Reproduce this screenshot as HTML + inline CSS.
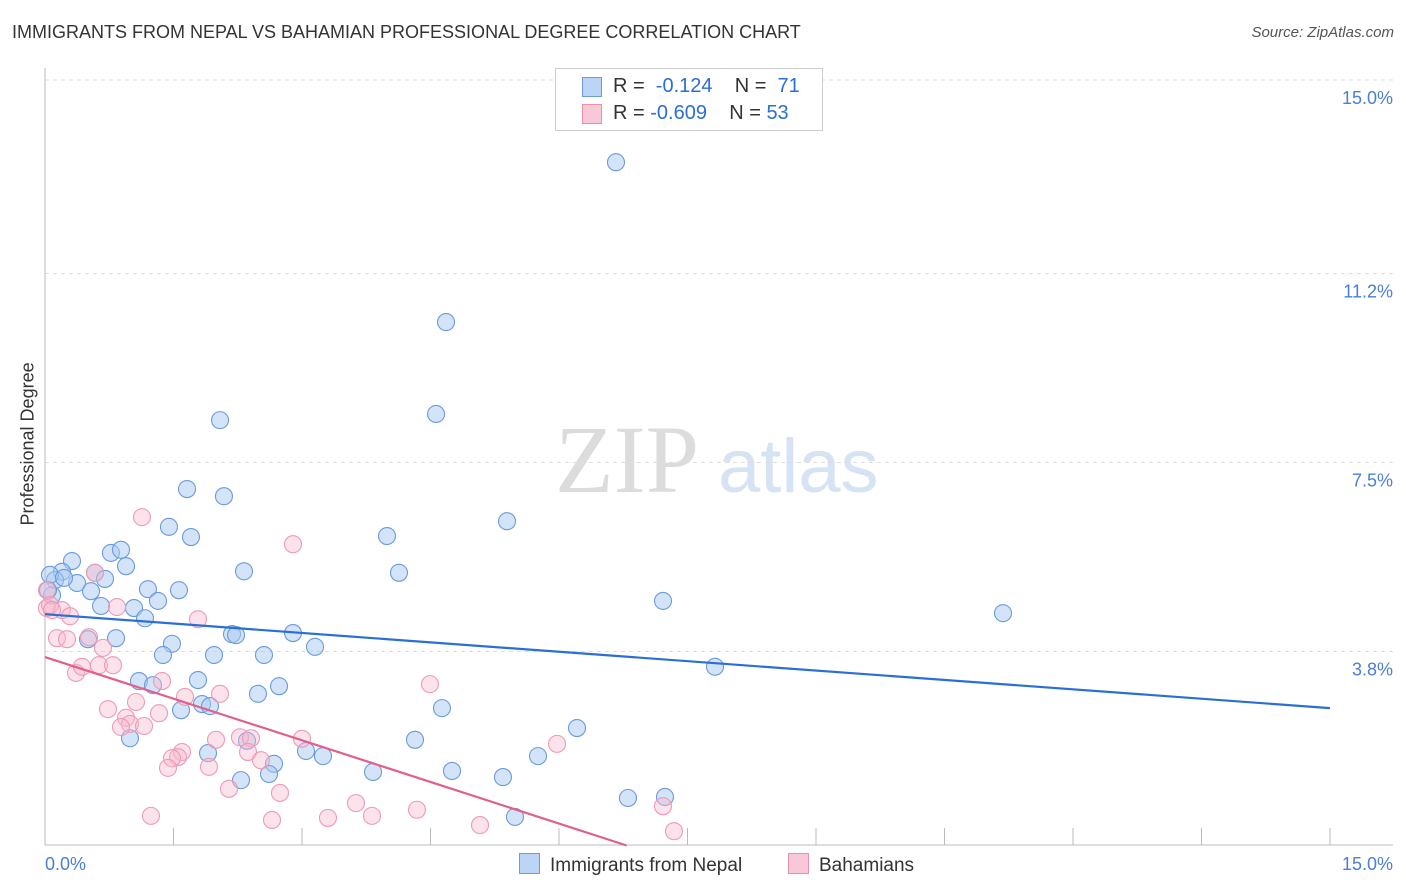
<!DOCTYPE html>
<html><head><meta charset="utf-8"><style>
body{margin:0;background:#fff;font-family:"Liberation Sans",sans-serif;}
#wrap{position:relative;width:1406px;height:892px;overflow:hidden;}
.t{position:absolute;white-space:nowrap;}
</style></head><body>
<div id="wrap">
<div class="t" style="left:12px;top:22px;font-size:18px;color:#333;">IMMIGRANTS FROM NEPAL VS BAHAMIAN PROFESSIONAL DEGREE CORRELATION CHART</div>
<div class="t" style="right:12px;top:24px;font-size:15px;color:#555;font-style:italic;">Source: ZipAtlas.com</div>
<div class="t" style="left:-42px;top:445px;font-size:18px;color:#333;transform:rotate(-90deg);width:140px;text-align:center;">Professional Degree</div>
<svg id="svg" width="1406" height="892" style="position:absolute;left:0;top:0"></svg>
</div>
<script>
const blueX=[6.665,4.681,4.565,2.043,1.658,2.089,5.393,1.447,1.704,3.992,0.315,0.770,0.887,0.946,2.323,4.132,0.584,0.198,0.117,0.700,0.374,1.202,1.564,0.537,1.319,7.214,0.654,1.039,11.183,1.167,2.183,2.230,2.895,0.829,0.502,1.482,3.152,1.377,1.973,2.556,7.821,1.097,1.261,1.786,2.732,2.486,1.833,1.926,1.588,4.634,6.210,0.992,4.319,2.358,3.047,3.245,1.903,5.755,2.673,3.829,4.751,2.288,2.615,5.346,6.805,7.237,5.486,0.058,0.082,0.222,0.035];
const blueY=[13.38,10.25,8.45,8.33,6.98,6.84,6.35,6.24,6.04,6.06,5.57,5.73,5.79,5.47,5.37,5.34,5.34,5.36,5.20,5.22,5.14,5.02,5.00,4.98,4.79,4.79,4.69,4.65,4.55,4.45,4.14,4.12,4.16,4.06,4.04,3.95,3.89,3.73,3.73,3.73,3.50,3.22,3.14,3.24,3.12,2.97,2.77,2.73,2.65,2.69,2.30,2.10,2.07,2.05,1.85,1.75,1.81,1.75,1.60,1.44,1.46,1.28,1.40,1.34,0.93,0.95,0.56,5.30,4.90,5.24,5.00];
const pinkX=[1.132,2.895,0.584,0.023,0.198,0.292,0.840,1.786,0.140,0.257,0.514,0.677,0.362,0.432,0.630,0.794,1.366,2.043,1.634,1.062,0.735,0.946,1.331,0.992,1.156,0.887,2.276,2.405,3.000,1.996,1.599,1.553,1.482,2.370,2.521,1.436,1.914,4.494,5.977,2.148,2.743,3.630,4.342,3.817,1.237,2.650,3.303,5.078,7.214,7.342,0.023,0.058,0.082];
const pinkY=[6.43,5.90,5.34,4.65,4.61,4.49,4.67,4.43,4.06,4.04,4.08,3.87,3.38,3.50,3.53,3.53,3.22,2.97,2.91,2.81,2.67,2.50,2.59,2.38,2.34,2.32,2.12,2.10,2.09,2.07,1.83,1.73,1.71,1.83,1.67,1.52,1.54,3.16,1.99,1.11,1.03,0.83,0.70,0.58,0.58,0.50,0.54,0.40,0.77,0.28,5.00,4.71,4.61];
const blueTrend=[4.53,2.69];      // y at x=0, y at x=15
const pinkTrend=[3.69,6.79];      // y at x=0, x where y=0
const yTicks=[3.8,7.5,11.2,15.0];
const yTickLabels=["3.8%","7.5%","11.2%","15.0%"];
const xTicks=[0,1.5,3,4.5,6,7.5,9,10.5,12,13.5,15];

const X0=45,X1=1330,Y0=845.5,Y1=79.5;
const sx=v=>X0+(v/15)*(X1-X0);
const sy=v=>Y0-(v/15)*(Y0-Y1);
const svg=document.getElementById('svg');
const NS='http://www.w3.org/2000/svg';
function mk(tag,attrs){const e=document.createElementNS(NS,tag);for(const k in attrs)e.setAttribute(k,attrs[k]);svg.appendChild(e);return e;}

let wm=mk('text',{x:555,y:492,'font-size':96,fill:'#dcdcdc','font-family':'Liberation Serif, serif'});


wm.textContent='ZIP';
let wm2=mk('text',{x:718,y:492,'font-size':76,fill:'#d6e3f5','font-family':'Liberation Sans, sans-serif'});


wm2.textContent='atlas';

yTicks.forEach((v,i)=>{
  const y=v===15?80:sy(v);
  const g=mk('line',{x1:X0,x2:1393,y1:y,y2:y,stroke:'#ddd','stroke-dasharray':'4,4'});
  
  
  const t=mk('text',{x:1393,y:y+24,'text-anchor':'end','font-size':18,fill:'#4a7fd4'});
  
  
  t.textContent=yTickLabels[i];
});
let ax=mk('line',{x1:X0,x2:1393,y1:845,y2:845,stroke:'#bbb'});


let ay=mk('line',{x1:X0,x2:X0,y1:68,y2:845,stroke:'#bbb'});


xTicks.forEach(v=>{
  const tk=mk('line',{x1:sx(v),x2:sx(v),y1:828,y2:845,stroke:'#bbb'});
  
  
});
let xl=mk('text',{x:45,y:870,'font-size':18,fill:'#4a7fd4'});


xl.textContent='0.0%';
let xr=mk('text',{x:1393,y:870,'text-anchor':'end','font-size':18,fill:'#4a7fd4'});


xr.textContent='15.0%';

blueX.forEach((v,i)=>{
  const c=mk('circle',{cx:sx(v),cy:sy(blueY[i]),r:8.5,fill:'rgba(170,202,242,0.5)',stroke:'#6a9ade','stroke-width':1.1});
  
  
});
pinkX.forEach((v,i)=>{
  const c=mk('circle',{cx:sx(v),cy:sy(pinkY[i]),r:8.5,fill:'rgba(247,185,205,0.42)',stroke:'#ee9ab5','stroke-width':1.1});
  
  
});
let bl=mk('line',{x1:sx(0),y1:sy(blueTrend[0]),x2:sx(15),y2:sy(blueTrend[1]),stroke:'#2a6fd6','stroke-width':2.2});


let pl=mk('line',{x1:sx(0),y1:sy(pinkTrend[0]),x2:sx(pinkTrend[1]),y2:sy(0),stroke:'#e0608a','stroke-width':2.2});


</script>
<div class="t" style="left:555px;top:68px;width:266px;height:61px;border:1px solid #ccc;background:#fff;font-size:20px;">
  <div style="position:absolute;left:26px;top:8px;width:18px;height:18px;background:#bcd4f5;border:1px solid #6d9be0;"></div>
  <div class="t" style="left:57px;top:6px;color:#333;">R = &nbsp;<span style="color:#2a6fd6">-0.124</span>&nbsp;&nbsp;&nbsp; N = &nbsp;<span style="color:#2a6fd6">71</span></div>
  <div style="position:absolute;left:26px;top:35px;width:18px;height:18px;background:#f9c8d7;border:1px solid #ea8fac;"></div>
  <div class="t" style="left:57px;top:33px;color:#333;">R = <span style="color:#2a6fd6">-0.609</span>&nbsp;&nbsp;&nbsp; N = <span style="color:#2a6fd6">53</span></div>
</div>
<div class="t" style="left:519px;top:853px;font-size:19px;color:#333;">
  <span style="display:inline-block;width:19px;height:19px;background:#bcd4f5;border:1px solid #6d9be0;vertical-align:-3px;margin-right:10px;"></span>Immigrants from Nepal</div>
<div class="t" style="left:788px;top:853px;font-size:19px;color:#333;">
  <span style="display:inline-block;width:19px;height:19px;background:#f9c8d7;border:1px solid #ea8fac;vertical-align:-3px;margin-right:10px;"></span>Bahamians</div>
</body></html>
